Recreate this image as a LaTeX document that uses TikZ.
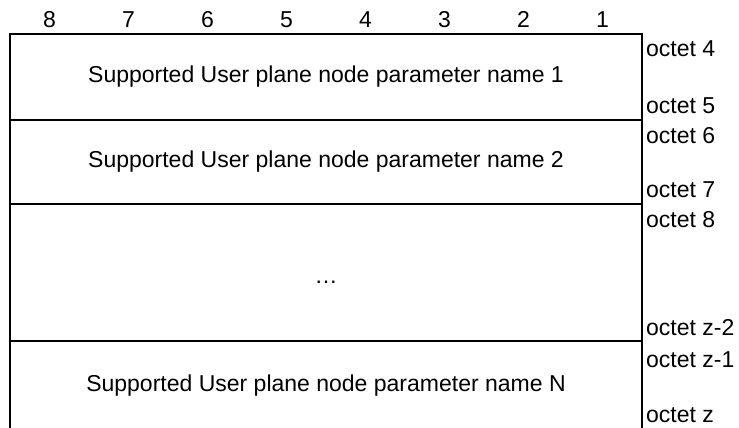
\documentclass[tikz,border=0pt]{standalone}
\usepackage{fontspec}
\setmainfont{Liberation Sans}
\begin{document}
\begin{tikzpicture}[x=1pt,y=-1pt,
  every node/.style={font=\fontsize{23}{26}\selectfont, inner sep=0pt},
  frame/.style={line width=2pt, line cap=rect},
  octlbl/.style={anchor=base west},
  bitlbl/.style={anchor=base},
  rowtxt/.style={anchor=center}]
\useasboundingbox (0,0) rectangle (739,428);
% frame coordinates
\coordinate (tl) at (10,34);
\coordinate (tr) at (642,34);
\coordinate (bl) at (10,428);
\coordinate (br) at (642,428);
\coordinate (l1) at (10,120);  \coordinate (r1) at (642,120);
\coordinate (l2) at (10,204);  \coordinate (r2) at (642,204);
\coordinate (l3) at (10,341);  \coordinate (r3) at (642,341);
\draw[frame] (bl) -- (tl) -- (tr) -- (br);
\draw[frame] (l1) -- (r1);
\draw[frame] (l2) -- (r2);
\draw[frame] (l3) -- (r3);
% bit numbers
\foreach \n [evaluate=\n as \x using {10+79*(8-\n)+39.5}] in {8,7,6,5,4,3,2,1}
  \node[bitlbl] (b\n) at (\x,28) {\n};
% row texts
\node[rowtxt] (row1) at (326,77) {Supported User plane node parameter name 1};
\node[rowtxt] (row2) at (326,162) {Supported User plane node parameter name 2};
\node[anchor=base] (row3) at (326,283) {\char"2026};
\node[rowtxt] (row4) at (326,386) {Supported User plane node parameter name N};
% octet labels
\node[octlbl] (o4) at (646,57) {octet 4};
\node[octlbl] (o5) at (646,113) {octet 5};
\node[octlbl] (o6) at (646,143) {octet 6};
\node[octlbl] (o7) at (646,197) {octet 7};
\node[octlbl] (o8) at (646,227) {octet 8};
\node[octlbl] (oz2) at (646,335) {octet z-2};
\node[octlbl] (oz1) at (646,367) {octet z-1};
\node[octlbl] (oz) at (646,422) {octet z};
\end{tikzpicture}
\end{document}
